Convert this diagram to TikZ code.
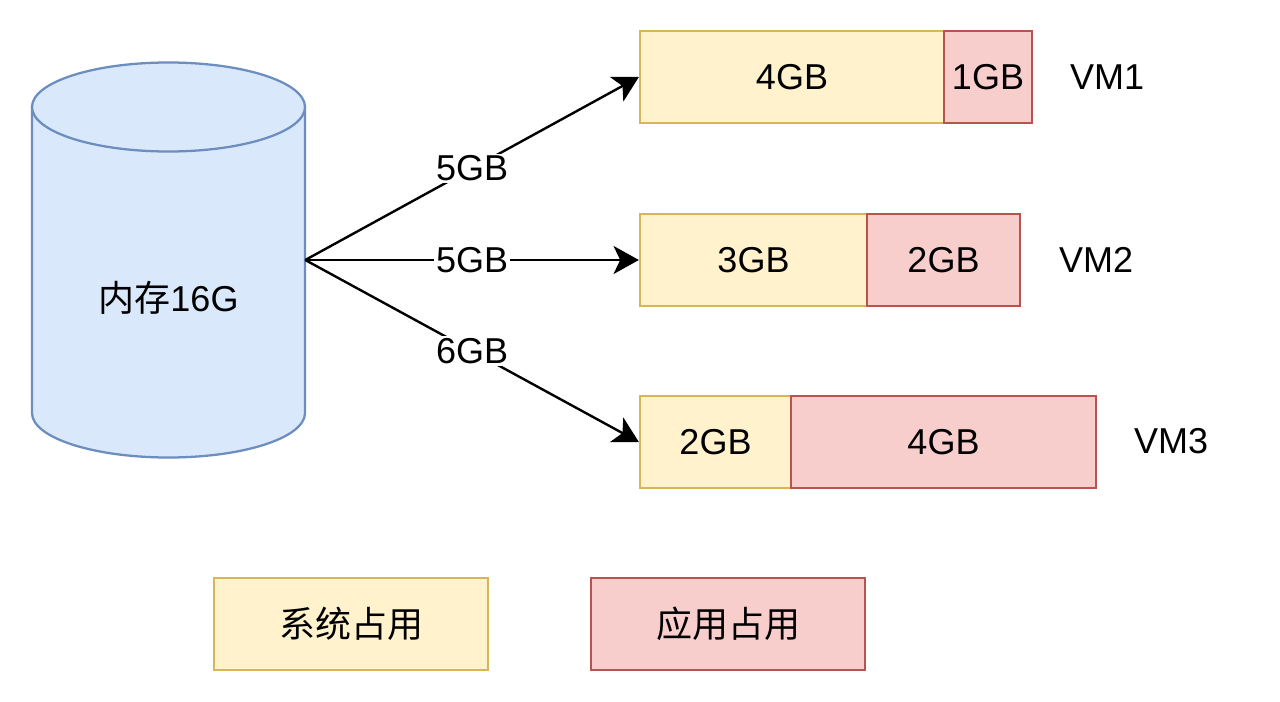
\documentclass[tikz,border=0pt]{standalone}
\usepackage{fontspec}
\setmainfont{Liberation Sans}
\newfontfamily\cjk{Noto Sans CJK SC}
\usetikzlibrary{arrows.meta}
\definecolor{sysfill}{HTML}{FFF2CC}
\definecolor{sysline}{HTML}{D6B656}
\definecolor{appfill}{HTML}{F8CECC}
\definecolor{appline}{HTML}{B85450}
\definecolor{memfill}{HTML}{DAE8FC}
\definecolor{memline}{HTML}{6C8EBF}
\begin{document}
\begin{tikzpicture}[x=0.75pt,y=-0.75pt,
  every node/.style={font=\fontsize{27pt}{32pt}\selectfont, inner sep=0pt},
  blk/.style={draw, line width=1.7pt, minimum height=69pt},
  sysbox/.style={blk, fill=sysfill, draw=sysline},
  appbox/.style={blk, fill=appfill, draw=appline},
  conn/.style={line width=1.8pt, -{Stealth[length=19pt,width=21pt,inset=5pt]}},
  lbl/.style={fill=white, inner sep=1.5pt}]
\useasboundingbox (0,0) rectangle (1280,702);
% cylinder
\draw[line width=1.7pt, draw=memline, fill=memfill]
  (32,107) -- (32,413) arc[start angle=180, end angle=360, x radius=102.375pt, y radius=33.375pt]
  -- (305,107) -- cycle;
\draw[line width=1.7pt, draw=memline, fill=memfill]
  (168.5,107) ellipse[x radius=102.375pt, y radius=33.375pt];
\node[minimum width=204.75pt, minimum height=295.5pt] (mem) at (168.5,260) {};
\node at (168.5,298) {{\cjk 内存}16G};
% VM1
\node[sysbox, minimum width=228pt] (v1a) at (792,77) {4GB};
\node[appbox, minimum width=66pt] (v1b) at (988,77) {1GB};
\node (vm1) at (1107,77) {VM1};
% VM2
\node[sysbox, minimum width=170.25pt] (v2a) at (753.5,260) {3GB};
\node[appbox, minimum width=114.75pt] (v2b) at (943.5,260) {2GB};
\node (vm2) at (1096,260) {VM2};
% VM3
\node[sysbox, minimum width=113.25pt] (v3a) at (715.5,442) {2GB};
\node[appbox, minimum width=228.75pt] (v3b) at (943.5,442) {4GB};
\node (vm3) at (1171,441) {VM3};
% legend
\node[sysbox, minimum width=205.5pt] (lg1) at (351,624) {\cjk 系统占用};
\node[appbox, minimum width=205.5pt] (lg2) at (728,624) {\cjk 应用占用};
% connectors
\draw[conn] (mem.east) -- node[lbl]{5GB} (v1a.west);
\draw[conn] (mem.east) -- node[lbl]{5GB} (v2a.west);
\draw[conn] (mem.east) -- node[lbl]{6GB} (v3a.west);
\end{tikzpicture}
\end{document}
